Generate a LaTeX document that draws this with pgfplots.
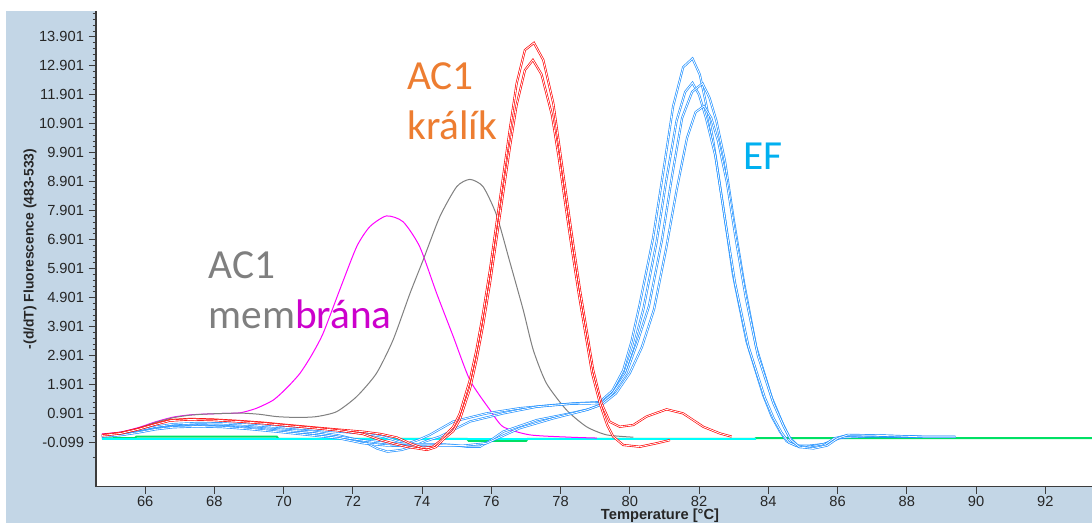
\documentclass[border=0pt]{standalone}
\usepackage{fontspec}
\setmainfont{Liberation Sans}
\newfontfamily\carlito{Carlito}
\usepackage{pgfplots}
\pgfplotsset{compat=1.18}

\definecolor{panel}{RGB}{195,214,230}
\definecolor{axisgray}{RGB}{60,60,60}
\definecolor{curvemag}{RGB}{255,0,255}
\definecolor{curvegray}{RGB}{128,128,128}
\definecolor{curveblue}{RGB}{30,144,255}
\definecolor{curvegreen}{RGB}{0,224,100}
\definecolor{curvecyan}{RGB}{0,255,255}
\definecolor{txtorange}{RGB}{237,125,49}
\definecolor{txtgray}{RGB}{127,127,127}
\definecolor{txtmag}{RGB}{204,0,204}
\definecolor{txtblue}{RGB}{0,176,240}

\begin{document}
\begin{tikzpicture}[x=1pt,y=1pt]
\fill[white] (-72,-27.2) rectangle (747,365);
\fill[panel] (-67.5,-27.2) rectangle (747,356.8);
\begin{axis}[
    at={(0,0)}, anchor=south west,
    scale only axis, width=747pt, height=356.8pt,
    xmin=64.58, xmax=93.35, ymin=-1.616, ymax=14.79,
    axis background/.style={fill=white},
    axis x line=bottom, axis y line=left,
    axis line style={-, draw=axisgray, line width=1.1pt},
    tick align=outside,
    tick style={draw=axisgray, line width=0.6pt},
    major tick length=5.5pt, minor tick length=2.5pt,
    xtick={66,68,...,92},
    xticklabels={66,68,70,72,74,76,78,80,82,84,86,88,90,92},
    ytick={-0.099,0.901,1.901,2.901,3.901,4.901,5.901,6.901,7.901,8.901,9.901,10.901,11.901,12.901,13.901},
    yticklabels={-0.099,0.901,1.901,2.901,3.901,4.901,5.901,6.901,7.901,8.901,9.901,10.901,11.901,12.901,13.901},
    minor ytick={-0.599,0.101,0.301,...,14.701},
    ticklabel style={font=\fontsize{11}{13}\selectfont, text=black!85},
    xticklabel style={yshift=2pt},
]

% baseline traces
\addplot[curvegreen, line width=1.5pt] coordinates {
(64.75,0.05)(65.7,0.06)(65.75,0.11)(69.8,0.11)(69.85,0.03)(75.3,0.03)(75.35,-0.04)
(77.0,-0.04)(77.05,0.03)(83.6,0.03)(83.65,0.06)(93.35,0.06)};
\addplot[curvecyan, line width=1.5pt] coordinates {(64.75,0.02)(83.65,0.02)};

% AC1 membrana (magenta)
\addplot[curvemag, line width=0.75pt, smooth, tension=0.4] coordinates {
(64.75,0.20)(65.3,0.27)(65.8,0.42)(66.3,0.62)(66.8,0.78)(67.3,0.86)(67.8,0.89)
(68.3,0.91)(68.74,0.93)(69.2,1.08)(69.7,1.37)(70.1,1.8)(70.47,2.29)(70.8,2.9)
(71.14,3.67)(71.62,5.17)(72.11,6.66)(72.49,7.35)(72.97,7.72)(73.45,7.52)(73.93,6.66)
(74.42,5.05)(74.9,3.56)(75.38,2.06)(75.96,1.03)(76.34,0.45)(77.11,0.17)(78.27,0.09)
(79.05,0.06)};

% AC1 membrana (gray)
\addplot[curvegray, line width=0.75pt, smooth, tension=0.4] coordinates {
(64.75,0.18)(65.3,0.26)(65.8,0.40)(66.3,0.60)(66.8,0.76)(67.3,0.85)(67.8,0.89)
(68.3,0.91)(68.8,0.92)(69.3,0.88)(69.8,0.80)(70.4,0.77)(70.95,0.80)(71.53,0.97)
(72.11,1.49)(72.68,2.29)(73.16,3.44)(73.65,5.05)(74.03,6.20)(74.51,7.69)(75.0,8.73)
(75.38,8.98)(75.76,8.73)(76.15,7.75)(76.53,6.15)(76.92,4.48)(77.21,3.10)(77.59,1.95)
(78.17,1.03)(78.75,0.45)(79.33,0.17)(80.1,0.09)};

% EF (blue, four runs)
\addplot[curveblue, line width=0.5pt, double=white, double distance=0.6pt] coordinates {
(64.75,0.14)(65.3,0.2)(65.8,0.32)(66.3,0.45)(66.8,0.54)(67.5,0.58)(68.2,0.57)(69.0,0.52)
(69.8,0.45)(70.85,0.36)(71.6,0.28)(72.3,0.22)(72.9,0.1)(73.3,-0.05)(73.6,-0.12)(73.9,0.0)
(74.22,0.17)(74.9,0.63)(75.86,0.91)(76.82,1.09)(77.79,1.2)(78.46,1.26)(79.13,1.3)(79.5,1.7)
(79.81,2.4)(80.05,3.4)(80.29,4.7)(80.67,6.95)(80.96,9.2)(81.25,11.5)(81.54,12.85)(81.81,13.15)
(82.02,12.6)(82.2,11.6)(82.41,10.3)(82.70,8.0)(82.98,5.7)(83.37,3.4)(83.85,1.55)(84.1,0.8)
(84.33,0.3)(84.53,-0.05)(84.8,-0.2)(85.2,-0.2)(85.6,-0.15)(86.0,0.05)(86.5,0.12)(87.3,0.12)
(88.5,0.1)(89.4,0.1)};
\addplot[curveblue, line width=0.5pt, double=white, double distance=0.6pt] coordinates {
(64.75,0.13)(65.3,0.18)(65.8,0.28)(66.3,0.4)(66.8,0.47)(67.5,0.5)(68.2,0.48)(69.0,0.43)
(69.8,0.36)(70.85,0.28)(71.6,0.15)(72.3,-0.05)(72.7,-0.3)(73.0,-0.41)(73.4,-0.35)(73.73,-0.24)
(74.1,-0.05)(74.51,0.11)(75.38,0.63)(76.34,0.91)(77.31,1.14)(78.27,1.24)(79.13,1.26)(79.5,1.6)
(79.85,2.3)(80.1,3.2)(80.39,4.5)(80.77,6.8)(81.06,9.0)(81.35,11.0)(81.6,12.0)(81.81,12.31)
(82.0,11.9)(82.2,11.1)(82.47,9.8)(82.75,7.6)(83.04,5.4)(83.43,3.2)(83.9,1.45)(84.15,0.75)
(84.38,0.25)(84.6,-0.1)(84.9,-0.25)(85.3,-0.22)(85.7,-0.12)(86.1,0.08)(87.0,0.12)(88.5,0.1)
(89.4,0.1)};
\addplot[curveblue, line width=0.5pt, double=white, double distance=0.6pt] coordinates {
(64.75,0.12)(65.3,0.17)(65.8,0.27)(66.3,0.38)(66.8,0.45)(67.5,0.48)(68.2,0.46)(69.0,0.4)
(69.8,0.32)(70.85,0.22)(71.6,0.1)(72.3,-0.02)(73.0,-0.12)(73.8,-0.15)(74.5,-0.15)(74.9,-0.18)
(75.3,-0.24)(75.67,-0.24)(76.0,0.0)(76.34,0.28)(77.31,0.68)(78.27,0.91)(78.8,1.05)(79.13,1.2)
(79.5,1.6)(79.9,2.3)(80.2,3.3)(80.55,4.6)(80.93,6.9)(81.22,9.1)(81.51,11.1)(81.8,12.0)
(82.1,12.29)(82.3,11.8)(82.5,11.0)(82.75,9.6)(83.0,7.6)(83.3,5.4)(83.65,3.2)(84.1,1.45)
(84.4,0.6)(84.6,0.1)(84.85,-0.2)(85.2,-0.28)(85.6,-0.2)(85.9,0.05)(86.3,0.16)(87.3,0.14)
(88.5,0.1)(89.4,0.1)};
\addplot[curveblue, line width=0.5pt, double=white, double distance=0.6pt] coordinates {
(64.75,0.11)(65.3,0.16)(65.8,0.25)(66.3,0.36)(66.8,0.43)(67.5,0.46)(68.2,0.44)(69.0,0.37)
(69.8,0.28)(70.85,0.15)(71.6,0.05)(72.3,-0.12)(73.0,-0.2)(73.8,-0.22)(74.5,-0.2)(75.2,-0.2)
(75.86,-0.12)(76.3,0.12)(76.82,0.40)(77.79,0.74)(78.75,1.03)(79.2,1.22)(79.6,1.6)(80.0,2.3)
(80.35,3.2)(80.7,4.5)(81.05,6.6)(81.35,8.6)(81.65,10.4)(81.9,11.3)(82.14,11.51)(82.35,11.1)
(82.55,10.3)(82.8,8.9)(83.05,7.0)(83.35,4.9)(83.7,2.9)(84.15,1.25)(84.45,0.45)(84.65,0.0)
(84.9,-0.25)(85.3,-0.3)(85.7,-0.2)(86.0,0.05)(86.3,0.17)(87.3,0.15)(88.5,0.1)(89.4,0.1)};

% AC1 kralik (red, two runs)
\addplot[red, line width=0.5pt, double=white, double distance=0.6pt] coordinates {
(64.75,0.17)(65.3,0.24)(65.8,0.38)(66.3,0.55)(66.72,0.68)(67.3,0.72)(67.96,0.70)(68.7,0.65)
(69.4,0.59)(70.1,0.51)(70.84,0.43)(71.6,0.35)(72.29,0.28)(72.8,0.20)(73.27,0.08)(73.7,-0.15)
(74.02,-0.28)(74.3,-0.25)(74.51,-0.05)(74.7,0.2)(74.9,0.45)(75.09,0.91)(75.38,2.06)(75.57,3.10)
(75.76,4.36)(75.96,5.86)(76.15,7.47)(76.34,9.07)(76.53,10.68)(76.73,12.29)(76.97,13.44)
(77.23,13.69)(77.50,13.1)(77.79,11.6)(77.98,9.99)(78.17,8.38)(78.36,6.78)(78.56,5.17)
(78.75,3.79)(78.94,2.41)(79.18,1.26)(79.42,0.62)(79.71,0.45)(80.1,0.51)(80.48,0.80)
(81.06,1.05)(81.54,0.91)(82.12,0.45)(82.6,0.22)(82.94,0.11)};
\addplot[red, line width=0.5pt, double=white, double distance=0.6pt] coordinates {
(64.75,0.15)(65.3,0.22)(65.8,0.36)(66.3,0.53)(66.72,0.66)(67.3,0.70)(67.96,0.68)(68.7,0.63)
(69.4,0.57)(70.1,0.49)(70.84,0.41)(71.6,0.32)(72.29,0.2)(72.8,-0.01)(73.2,-0.14)(73.56,-0.24)
(74.14,-0.35)(74.4,-0.25)(74.6,0.0)(74.9,0.30)(75.09,0.7)(75.38,1.75)(75.57,2.75)(75.76,3.95)
(75.96,5.4)(76.15,6.95)(76.34,8.5)(76.53,10.05)(76.73,11.55)(76.97,12.75)(77.2,13.1)
(77.45,12.6)(77.75,11.2)(77.95,9.7)(78.14,8.1)(78.33,6.55)(78.53,5.0)(78.72,3.65)(78.91,2.3)
(79.15,1.2)(79.35,0.5)(79.52,0.11)(79.81,-0.18)(80.29,-0.24)(80.77,-0.12)(81.16,-0.01)};
\end{axis}

% axis titles
\node[rotate=90, font=\bfseries\fontsize{10.4}{12}\selectfont, text=black!85] at (-49.5,178.3)
  {-(d/dT) Fluorescence (483-533)};
\node[anchor=base, inner sep=0, font=\bfseries\fontsize{11}{13}\selectfont, text=black!85] at (423,-24.8)
  {Temperature [\textdegree C]};

% annotations
\begin{scope}[every node/.style={anchor=base west, inner sep=0, font=\carlito\fontsize{31}{37}\selectfont}]
\node[text=txtorange] at (233.25,297.5) {AC1};
\node[text=txtorange] at (233.25,260) {králík};
\node[text=txtblue] at (485.25,237.5) {EF};
\node[text=txtgray] at (84.2,156.3) {AC1};
\node[text=txtgray] at (84.2,118.8) {mem\textcolor{txtmag}{brána}};
\end{scope}

\pgfresetboundingbox
\useasboundingbox (-72,-27.2) rectangle (747,365);
\end{tikzpicture}
\end{document}
